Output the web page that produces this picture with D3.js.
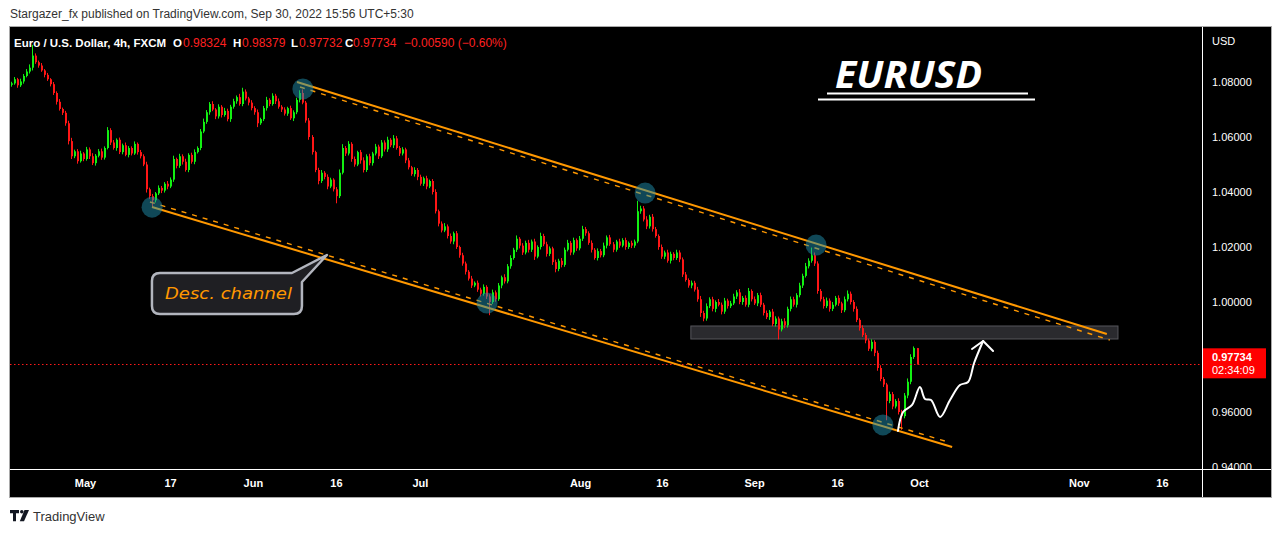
<!DOCTYPE html>
<html><head><meta charset="utf-8">
<script src="https://cdn.jsdelivr.net/npm/d3@7"></script>
<style>body{margin:0;background:#fff;} svg{display:block;}</style>
</head><body>
<svg id="c" width="1280" height="533"></svg>
<script>
// ---------------- DATA ----------------
const firstOpen = 1.0790;
const close = [
1.0795,1.0810,1.0788,1.0802,1.0822,1.0838,1.0852,1.0896,1.0872,1.0860,
1.0842,1.0826,1.0810,1.0792,1.0760,1.0728,1.0702,1.0688,1.0650,1.0585,
1.0530,1.0548,1.0512,1.0540,1.0520,1.0555,1.0530,1.0505,1.0532,1.0548,
1.0525,1.0560,1.0625,1.0580,1.0560,1.0590,1.0545,1.0570,1.0535,1.0560,
1.0540,1.0575,1.0545,1.0530,1.0500,1.0410,1.0385,1.0370,1.0395,1.0415,
1.0405,1.0430,1.0420,1.0445,1.0520,1.0495,1.0530,1.0510,1.0480,1.0535,
1.0510,1.0545,1.0560,1.0620,1.0655,1.0690,1.0720,1.0700,1.0675,1.0710,
1.0680,1.0695,1.0665,1.0710,1.0730,1.0745,1.0720,1.0765,1.0740,1.0725,
1.0705,1.0690,1.0650,1.0665,1.0705,1.0735,1.0720,1.0750,1.0730,1.0710,
1.0700,1.0685,1.0705,1.0668,1.0690,1.0735,1.0760,1.0725,1.0660,1.0600,
1.0545,1.0480,1.0440,1.0470,1.0455,1.0420,1.0445,1.0410,1.0385,1.0470,
1.0560,1.0540,1.0575,1.0520,1.0500,1.0545,1.0515,1.0480,1.0530,1.0505,
1.0540,1.0565,1.0530,1.0580,1.0555,1.0590,1.0570,1.0595,1.0560,1.0540,
1.0555,1.0515,1.0490,1.0465,1.0480,1.0455,1.0430,1.0450,1.0420,1.0440,
1.0400,1.0330,1.0285,1.0260,1.0275,1.0240,1.0220,1.0250,1.0200,1.0170,
1.0140,1.0110,1.0085,1.0060,1.0070,1.0045,1.0030,1.0055,1.0020,1.0000,
1.0035,1.0010,1.0060,1.0090,1.0075,1.0130,1.0160,1.0190,1.0230,1.0205,
1.0180,1.0215,1.0190,1.0220,1.0165,1.0200,1.0240,1.0210,1.0175,1.0195,
1.0145,1.0120,1.0150,1.0135,1.0190,1.0215,1.0180,1.0225,1.0195,1.0230,
1.0265,1.0250,1.0215,1.0190,1.0160,1.0185,1.0170,1.0205,1.0235,1.0210,
1.0190,1.0220,1.0205,1.0225,1.0200,1.0215,1.0205,1.0220,1.0330,1.0340,
1.0300,1.0275,1.0310,1.0265,1.0240,1.0200,1.0165,1.0180,1.0150,1.0175,
1.0160,1.0180,1.0155,1.0100,1.0080,1.0060,1.0070,1.0045,1.0010,0.9960,
0.9940,0.9985,1.0010,0.9975,1.0000,0.9990,0.9965,1.0005,0.9985,0.9995,
1.0020,1.0035,1.0000,1.0015,0.9990,1.0040,1.0010,0.9995,1.0025,0.9990,
0.9960,0.9945,0.9965,0.9920,0.9940,0.9900,0.9930,0.9915,0.9975,1.0010,
0.9990,1.0025,1.0060,1.0095,1.0130,1.0150,1.0170,1.0140,1.0040,1.0010,
0.9985,1.0005,0.9975,0.9990,1.0015,0.9995,0.9970,1.0010,1.0030,1.0000,
0.9975,0.9935,0.9905,0.9880,0.9860,0.9830,0.9855,0.9815,0.9760,0.9720,
0.9700,0.9640,0.9665,0.9620,0.9640,0.9600,0.9585,0.9660,0.9710,0.9800,
0.98324,0.97734
];
// wick extension beyond the body, in pips (0.0001)
const hiExt = [
6,8,5,10,7,9,12,39,8,6, 9,5,7,4,8,6,10,5,7,9, 12,6,8,10,5,9,7,11,6,8, 10,6,11,7,9,5,8,6,10,7,
6,9,5,8,7,10,6,8,5,9, 7,6,10,8,12,5,9,7,11,6, 8,10,6,9,12,8,7,10,5,9, 6,11,8,7,9,6,12,14,8,6,
9,7,10,5,8,11,6,9,7,10, 6,8,5,9,7,8,10,13,6,9, 7,5,8,10,6,9,7,5,8,12, 14,7,10,6,9,5,8,11,7,9,
6,10,7,9,8,11,6,12,9,7, 8,6,9,5,10,7,8,6,9,5, 7,10,6,8,12,7,9,6,8,5, 9,7,6,10,5,8,7,9,6,8,
10,7,9,6,11,8,10,7,12,6, 9,8,11,7,10,6,12,8,9,7, 6,9,7,10,8,11,7,9,6,10, 12,8,7,9,6,10,8,11,7,9,
8,6,10,7,9,5,8,7,38,10, 9,12,7,10,8,6,9,7,10,8, 6,10,8,7,9,6,8,7,10,12, 8,10,7,9,6,11,8,10,7,9,
10,8,12,7,9,11,6,10,8,9, 7,9,6,10,8,7,9,11,8,10, 9,7,10,8,12,9,28,10,8,7, 9,11,8,10,7,9,6,10,12,8,
7,9,6,10,8,7,9,6,8,10, 7,6,9,8,7,10,8,9,12,10, 6,0.5
];
const loExt = [
7,5,9,6,8,5,7,10,6,8, 5,9,6,8,7,10,6,8,9,12, 10,7,9,5,8,6,10,7,9,6, 8,7,5,9,6,10,7,8,5,9,
7,5,9,8,6,12,10,25,8,6, 9,7,10,6,8,9,7,10,6,8, 7,9,5,8,6,7,9,6,10,8, 9,6,8,10,7,9,6,8,7,10,
8,9,14,6,7,9,8,6,10,7, 9,7,8,6,10,7,9,6,8,10, 9,8,12,7,9,10,6,8,26,7, 6,9,7,10,8,6,12,9,7,8,
9,7,10,6,8,9,7,10,6,9, 7,10,8,6,9,12,7,8,10,6, 9,8,10,7,6,9,8,10,7,9, 8,10,7,9,6,8,10,7,9,48,
7,9,6,10,8,7,9,6,8,10, 9,7,10,8,12,6,9,7,10,8, 10,12,8,9,7,6,10,8,9,7, 8,9,7,10,6,9,8,7,10,6,
9,7,8,6,10,7,9,8,6,9, 7,10,8,9,6,10,8,9,7,10, 8,7,10,9,6,8,10,7,9,14, 10,8,7,9,12,6,10,8,9,7,
6,9,8,10,7,9,8,6,10,8, 9,7,10,8,9,36,7,10,8,9, 7,10,8,9,6,8,7,9,10,8, 9,7,10,8,6,9,10,7,8,9,
10,8,9,7,10,8,9,12,10,8, 9,70,8,10,7,9,50,8,10,9, 7,0.2
];
const priceTicks = [0.94, 0.96, 0.98, 1.00, 1.02, 1.04, 1.06, 1.08];
const timeTickIdx = [24.4, 52.7, 80.2, 107.8, 135.7, 188.9, 216.1, 246.7, 274.3, 301.5, 354.6, 382.2];
const timeTickLabels = ["May","17","Jun","16","Jul","Aug","16","Sep","16","Oct","Nov","16"];
// drawings: [bar index, price]
const upperChannel = [[94.85, 1.0800], [363.9, 0.98836]];
const upperDashed  = [[95.85, 1.07818], [364.9, 0.98618]];
const lowerChannel = [[46.68, 1.03455], [312.5, 0.94727]];
const lowerDashed  = [[46.0, 1.03636], [310.1, 0.94945]];
const pivots = [[46.7,1.0345],[96.8,1.0775],[158,0.9996],[210.5,1.0396],[267.3,1.0207],[289.5,0.9553]];
const zoneIdx = [225.7, 367.6];
const zonePrice = [0.99127, 0.98655];
const projection = [[294.5,0.9531],[296.2,0.9600],[299.2,0.96255],[301.8,0.96909],[303.5,0.96473],
  [305.5,0.96436],[308.5,0.95818],[311.8,0.96436],[315.1,0.96982],[317.8,0.97091],[319.8,0.97782],[322.8,0.98582]];
const arrowHead = [[319.1,0.98291],[322.8,0.98582],[326.1,0.98218]];
const calloutTip = [104.8, 1.01709];
const legendVals = {O:"0.98324", H:"0.98379", L:"0.97732", C:"0.97734", chg:"\u22120.00590 (\u22120.60%)"};
const countdown = "02:34:09";

// ---------------- CHART ----------------
const svg = d3.select('#c');
const P = {l:10, r:1202, t:27, b:469, R:1271, B:497};
const x = d3.scaleLinear().domain([0, 395]).range([11.5, 11.5 + 395*3.01]);
const y = d3.scaleLinear().domain([0.94, 1.08]).range([467, 82]);
const FONT = "'Liberation Sans', Arial, sans-serif";

svg.append('text').attr('x',10).attr('y',18).attr('fill','#333')
  .style('font', `12px ${FONT}`)
  .text('Stargazer_fx published on TradingView.com, Sep 30, 2022 15:56 UTC+5:30');

svg.append('rect').attr('x',P.l-0.5).attr('y',P.t-0.5).attr('width',P.R-P.l+1).attr('height',P.B-P.t+1)
  .attr('fill','#000').attr('stroke','#a9a9a9');

const defs = svg.append('defs');
defs.append('clipPath').attr('id','plotclip').append('rect')
  .attr('x',P.l).attr('y',P.t).attr('width',P.r-P.l).attr('height',P.b-P.t);
defs.append('clipPath').attr('id','yclip').append('rect')
  .attr('x',P.r).attr('y',P.t).attr('width',P.R-P.r).attr('height',P.b-P.t);

const g = svg.append('g').attr('clip-path','url(#plotclip)');

// zone
g.append('rect').attr('x',x(zoneIdx[0])).attr('y',y(zonePrice[0]))
  .attr('width',x(zoneIdx[1])-x(zoneIdx[0])).attr('height',y(zonePrice[1])-y(zonePrice[0]))
  .attr('fill','#2a2a2e').attr('stroke','#56565c').attr('stroke-width',1);

// candles
const candles = close.map((c,i)=>{
  const o = i===0 ? firstOpen : close[i-1];
  return {i, o, c, h: Math.max(o,c)+hiExt[i]/10000, l: Math.min(o,c)-loExt[i]/10000};
});
const cg = g.append('g');
candles.forEach(d=>{
  const col = d.c >= d.o ? '#12f012' : '#ff1616';
  const cx = Math.round(x(d.i));
  cg.append('rect').attr('x',cx-1).attr('width',1).attr('y',y(d.h)).attr('height',Math.max(1,y(d.l)-y(d.h))).attr('fill',col);
  const top = y(Math.max(d.o,d.c)), bot = y(Math.min(d.o,d.c));
  cg.append('rect').attr('x',cx-1).attr('width',2).attr('y',top).attr('height',Math.max(1,bot-top)).attr('fill',col);
});

// last price dotted line
const last = close[close.length-1];
g.append('line').attr('x1',P.l).attr('x2',P.r).attr('y1',Math.round(y(last))+0.5).attr('y2',Math.round(y(last))+0.5)
  .attr('stroke','#ff1a1a').attr('stroke-dasharray','1.5,2.5');

// channels
const ln = d3.line().x(d=>x(d[0])).y(d=>y(d[1]));
[upperDashed, lowerDashed].forEach(p=>g.append('path').attr('d',ln(p)).attr('fill','none')
  .attr('stroke','#ff9800').attr('stroke-width',1.4).attr('stroke-dasharray','5,6'));
[upperChannel, lowerChannel].forEach(p=>g.append('path').attr('d',ln(p)).attr('fill','none')
  .attr('stroke','#ff9800').attr('stroke-width',2));

// pivot circles
g.selectAll('circle.pv').data(pivots).join('circle').attr('class','pv')
  .attr('cx',d=>x(d[0])).attr('cy',d=>y(d[1])).attr('r',10.5)
  .attr('fill','#1f8fae').attr('fill-opacity',0.5);

// projection arrow
g.append('path').attr('d',d3.line().x(d=>x(d[0])).y(d=>y(d[1])).curve(d3.curveCatmullRom.alpha(0.5))(projection))
  .attr('fill','none').attr('stroke','#fff').attr('stroke-width',2).attr('stroke-linecap','round');
g.append('path').attr('d',ln(arrowHead)).attr('fill','none').attr('stroke','#fff').attr('stroke-width',2)
  .attr('stroke-linecap','round').attr('stroke-linejoin','round');

// callout
const tx = x(calloutTip[0]), ty = y(calloutTip[1]);
const bx0 = tx-175, by0 = ty+18, bx1 = bx0+150, by1 = by0+41, r = 8;
g.append('path').attr('d',
  `M${bx0+r},${by0} L${bx1-10},${by0} L${tx},${ty} L${bx1},${by0+9} L${bx1},${by1-r} Q${bx1},${by1} ${bx1-r},${by1} L${bx0+r},${by1} Q${bx0},${by1} ${bx0},${by1-r} L${bx0},${by0+r} Q${bx0},${by0} ${bx0+r},${by0} Z`)
  .attr('fill','#1f1f23').attr('stroke','#b2b5be').attr('stroke-width',2.5).attr('stroke-linejoin','round');
g.append('text').attr('x',bx0+13).attr('y',by0+26).attr('fill','#ff9800')
  .attr('textLength',127).attr('lengthAdjust','spacingAndGlyphs')
  .style('font',"italic 16.5px 'DejaVu Sans', sans-serif").text('Desc. channel');

// EURUSD title
g.append('text').attr('x',835).attr('y',88).attr('fill','#fff')
  .attr('textLength',147).attr('lengthAdjust','spacingAndGlyphs')
  .style('font',"italic 700 37px 'Open Sans', sans-serif").text('EURUSD');
g.append('line').attr('x1',827).attr('x2',1028).attr('y1',93.5).attr('y2',93.5).attr('stroke','#fff').attr('stroke-width',2);
g.append('line').attr('x1',818).attr('x2',1035).attr('y1',99.5).attr('y2',99.5).attr('stroke','#fff').attr('stroke-width',2);

// legend
const lg = svg.append('g').style('font',`12px ${FONT}`);
lg.append('text').attr('x',14).attr('y',47).attr('fill','#fff').style('font-weight','bold').style('font-size','11.5px')
  .text('Euro / U.S. Dollar, 4h, FXCM');
[['O',173,183,legendVals.O],['H',233,242,legendVals.H],['L',291,299,legendVals.L],['C',345,353,legendVals.C]].forEach(a=>{
  lg.append('text').attr('x',a[1]).attr('y',47).attr('fill','#fff').style('font-weight','bold').style('font-size','11.5px').text(a[0]);
  lg.append('text').attr('x',a[2]).attr('y',47).attr('fill','#ff2020').text(a[3]);
});
lg.append('text').attr('x',404).attr('y',47).attr('fill','#ff2020').text(legendVals.chg);

// separators
svg.append('line').attr('x1',P.r+0.5).attr('x2',P.r+0.5).attr('y1',P.t).attr('y2',P.B).attr('stroke','#fff');
svg.append('line').attr('x1',P.l).attr('x2',P.R).attr('y1',P.b+0.5).attr('y2',P.b+0.5).attr('stroke','#fff');

// y axis
const ya = svg.append('g').attr('clip-path','url(#yclip)').append('g').attr('transform',`translate(${P.r},0)`)
  .call(d3.axisRight(y).tickValues(priceTicks).tickFormat(d3.format('.5f')).tickSize(0).tickPadding(10));
ya.select('.domain').remove();
ya.selectAll('text').attr('fill','#fff').style('font',`11px ${FONT}`);
svg.append('text').attr('x',1212).attr('y',45).attr('fill','#fff').style('font',`11px ${FONT}`).text('USD');

// last price tag
const ly = y(last);
svg.append('rect').attr('x',P.r+1).attr('y',ly-16).attr('width',63).attr('height',30).attr('fill','#ff0000');
svg.append('text').attr('x',1212).attr('y',ly-3).attr('fill','#fff').style('font',`bold 11px ${FONT}`).text(d3.format('.5f')(last));
svg.append('text').attr('x',1212).attr('y',ly+10).attr('fill','#fff').style('font',`11px ${FONT}`).text(countdown);

// x axis
const xa = svg.append('g').attr('transform',`translate(0,${P.b})`)
  .call(d3.axisBottom(x).tickValues(timeTickIdx).tickFormat((d,i)=>timeTickLabels[i]).tickSize(0).tickPadding(10));
xa.select('.domain').remove();
xa.selectAll('text').attr('fill','#fff').style('font',`bold 11px ${FONT}`);

// footer logo
const fg = svg.append('g').attr('fill','#131722');
fg.append('path').attr('d','M10,510 h9 v3.2 h-3 v8 h-3 v-8 h-3 z');
fg.append('circle').attr('cx',21.8).attr('cy',511.8).attr('r',1.8);
fg.append('path').attr('d','M24.5,510 h4.5 l-5,11.2 h-4.2 z');
svg.append('text').attr('x',33).attr('y',521).attr('fill','#333').style('font',`13px ${FONT}`).text('TradingView');
</script>
</body></html>
